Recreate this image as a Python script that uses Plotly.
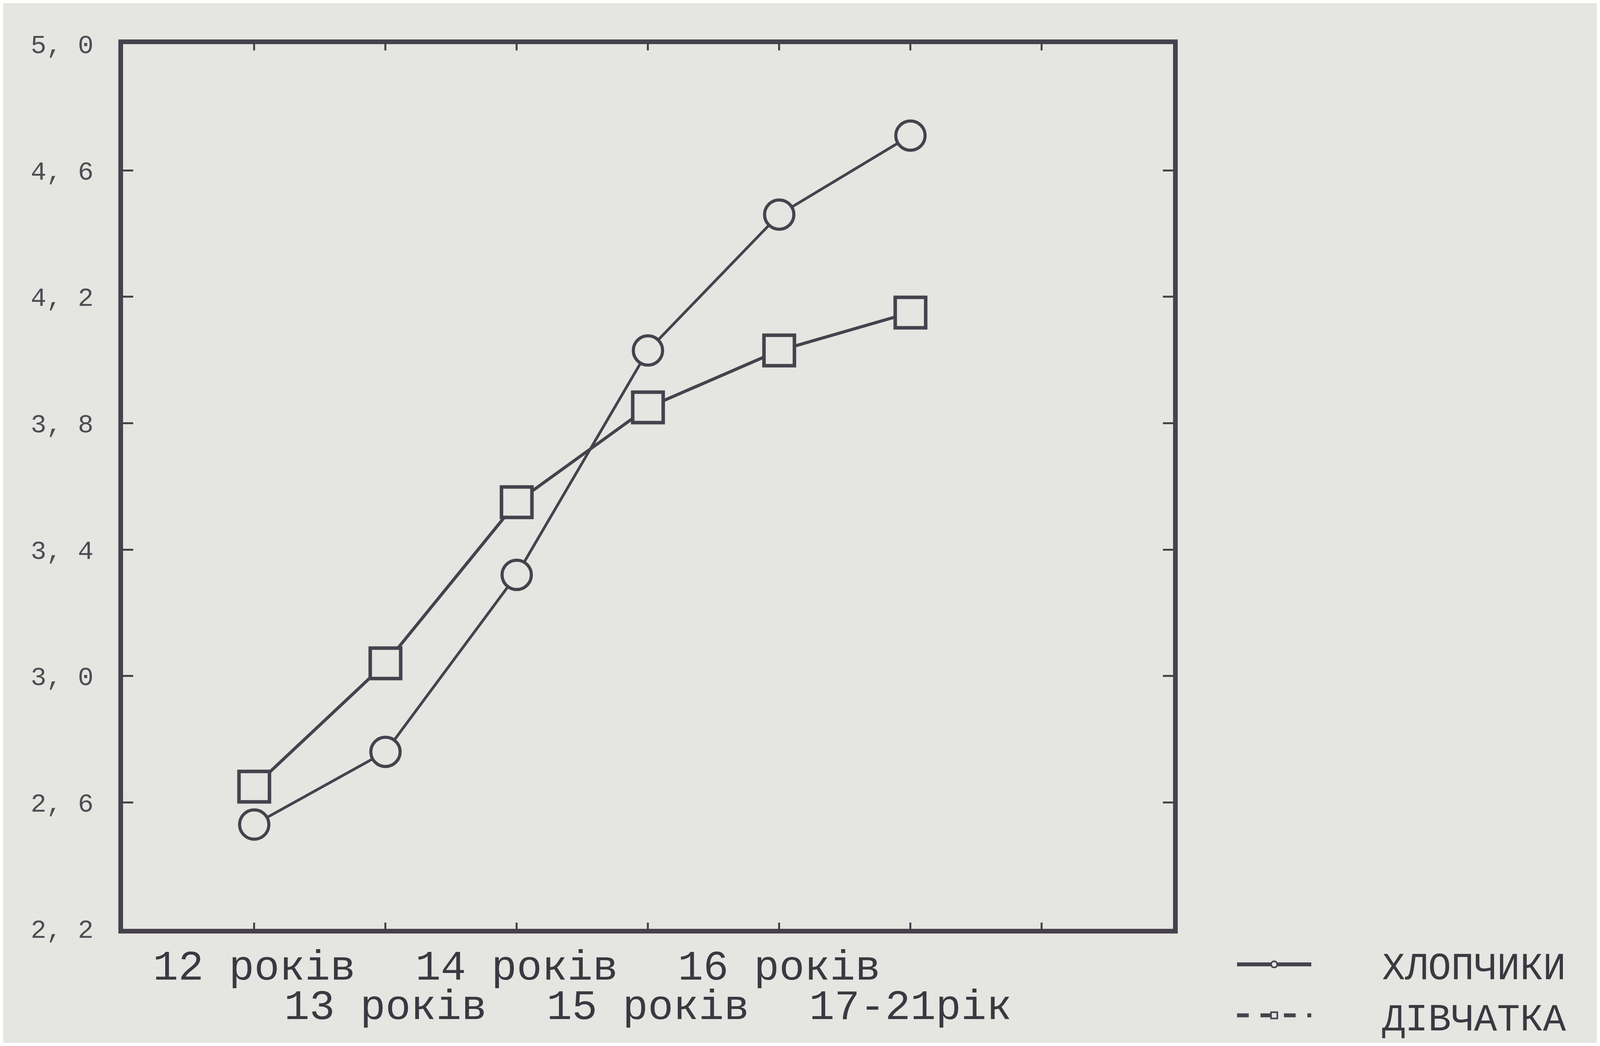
import plotly.graph_objects as go

# ---- data ----
ages = ["12 років", "13 років", "14 років", "15 років", "16 років", "17-21рік"]
boys = [2.53, 2.76, 3.32, 4.03, 4.46, 4.71]    # ХЛОПЧИКИ
girls = [2.65, 3.04, 3.55, 3.85, 4.03, 4.15]   # ДІВЧАТКА
y_ticks = [2.2, 2.6, 3.0, 3.4, 3.8, 4.2, 4.6, 5.0]
y_ticktext = ["2, 2", "2, 6", "3, 0", "3, 4", "3, 8", "4, 2", "4, 6", "5, 0"]
series_names = ["ХЛОПЧИКИ", "ДІВЧАТКА"]

x_pos = list(range(1, len(ages) + 1))

INK = "#46424d"
BG = "#e5e5e1"
TXT = "#3a3840"
FONT = "Liberation Mono"
PAD = "\u00a0\u00a0\u00a0"

fig = go.Figure()

# data traces (solid lines, hollow markers)
fig.add_trace(go.Scatter(
    x=x_pos, y=boys, mode="lines+markers", showlegend=False,
    line=dict(color=INK, width=7),
    marker=dict(symbol="circle", size=75, color=BG, line=dict(color=INK, width=8)),
))
fig.add_trace(go.Scatter(
    x=x_pos, y=girls, mode="lines+markers", showlegend=False,
    line=dict(color=INK, width=8),
    marker=dict(symbol="square", size=78, color=BG, line=dict(color=INK, width=9)),
))

# legend entries (styled as in the reference key)
fig.add_trace(go.Scatter(
    x=[None], y=[None], mode="lines+markers", name=PAD + series_names[0],
    line=dict(color=INK, width=10),
    marker=dict(symbol="circle", size=16, color=BG, line=dict(color=INK, width=4)),
))
fig.add_trace(go.Scatter(
    x=[None], y=[None], mode="lines+markers", name=PAD + series_names[1],
    line=dict(color=INK, width=10, dash="dash"),
    marker=dict(symbol="square", size=16, color=BG, line=dict(color=INK, width=4)),
))

# helper trace on the second x axis (staggered second row of labels)
fig.add_trace(go.Scatter(x=[None], y=[None], xaxis="x2", showlegend=False,
                         hoverinfo="skip"))

row1_vals = x_pos[0::2]
row1_text = ages[0::2]
row2_vals = x_pos[1::2]
row2_text = ages[1::2]

main_tickvals = list(range(1, 8))
main_ticktext = [row1_text[row1_vals.index(v)] if v in row1_vals else "" for v in main_tickvals]

X_DOMAIN = [0.0752, 0.734]
Y_DOMAIN = [0.093, 0.96]

fig.update_layout(
    autosize=True,
    paper_bgcolor=BG, plot_bgcolor=BG,
    margin=dict(l=0, r=0, t=0, b=0, pad=0),
    font=dict(family=FONT, color=TXT),
    xaxis=dict(
        domain=X_DOMAIN, automargin=False,
        range=[0, 8], tickmode="array", tickvals=main_tickvals, ticktext=main_ticktext,
        ticks="inside", ticklen=16, tickwidth=5, tickcolor=INK,
        showline=True, linewidth=12, linecolor=INK, mirror="ticks",
        showgrid=False, zeroline=False,
        tickfont=dict(family=FONT, size=108, color=TXT),
        ticklabelstandoff=-12,
    ),
    xaxis2=dict(
        domain=X_DOMAIN, automargin=False,
        range=[0, 8], overlaying="x", anchor="y", side="bottom",
        tickmode="array", tickvals=row2_vals, ticktext=row2_text,
        ticks="", showline=False, showgrid=False, zeroline=False,
        tickfont=dict(family=FONT, size=108, color=TXT),
        ticklabelstandoff=122,
    ),
    yaxis=dict(
        domain=Y_DOMAIN, automargin=False,
        range=[2.2, 5.0], tickmode="array", tickvals=y_ticks, ticktext=y_ticktext,
        ticks="inside", ticklen=26, tickwidth=5, tickcolor=INK,
        showline=True, linewidth=12, linecolor=INK, mirror="ticks",
        showgrid=False, zeroline=False,
        tickfont=dict(family=FONT, size=67, color="#4e4c54"),
        ticklabelstandoff=50,
    ),
    legend=dict(
        x=0.773, xanchor="left", y=0.085, yanchor="top",
        bgcolor="rgba(0,0,0,0)", borderwidth=0,
        font=dict(family=FONT, size=98, color=TXT),
        itemwidth=190, tracegroupgap=0,
    ),
)

fig.write_html("out.html")
